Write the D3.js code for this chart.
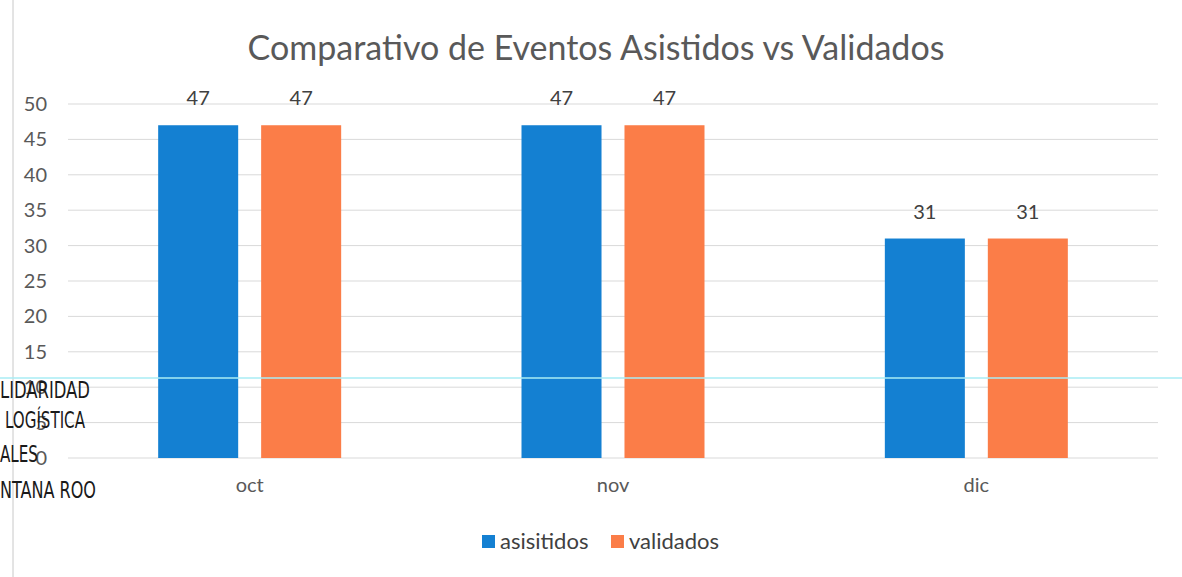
<!DOCTYPE html>
<html>
<head>
<meta charset="utf-8">
<script src="https://cdn.jsdelivr.net/npm/d3@7"></script>
<style>
  body { margin: 0; background: #fff; }
  svg text { font-family: Lato, "Open Sans", sans-serif; }
</style>
</head>
<body>
<div class="chart"></div>
<script>
// data
var months = ["oct", "nov", "dic"];
var seriesNames = ["asisitidos", "validados"];
var asistidos = [47, 47, 31];
var validados = [47, 47, 31];
var yTicks = [0, 5, 10, 15, 20, 25, 30, 35, 40, 45, 50];
var stampLines = ["LIDARIDAD", "LOGÍSTICA", "ALES", "NTANA ROO"];

var colors = ["#1480d2", "#fb7d48"];

var width = 1182, height = 577;
var margin = { top: 104, bottom: 119, left: 68, right: 24 };

var svg = d3.select(".chart").append("svg")
    .attr("width", width)
    .attr("height", height);

var x = d3.scaleBand()
    .domain(months)
    .range([margin.left, width - margin.right]);

var x1 = d3.scaleBand()
    .domain(seriesNames)
    .range([0, 183])
    .paddingInner(0.223);

var y = d3.scaleLinear()
    .domain([0, 50])
    .range([height - margin.bottom, margin.top]);

// title
svg.append("text")
    .attr("x", 596)
    .attr("y", 60)
    .attr("text-anchor", "middle")
    .attr("font-size", 34)
    .attr("fill", "#595959")
    .text("Comparativo de Eventos Asistidos vs Validados");

// grid
svg.append("g")
    .selectAll("line")
    .data(yTicks)
    .enter().append("line")
    .attr("x1", margin.left)
    .attr("x2", width - margin.right)
    .attr("y1", d => y(d))
    .attr("y2", d => y(d))
    .attr("stroke", "#d9d9d9")
    .attr("stroke-width", 1);

// y axis labels
var yAxis = d3.axisLeft(y).tickValues(yTicks).tickSize(0).tickPadding(0);
svg.append("g")
    .attr("transform", "translate(" + (margin.left - 21) + ",0)")
    .call(yAxis)
    .call(g => g.select(".domain").remove())
    .selectAll("text")
    .attr("font-size", 20)
    .attr("fill", "#595959")
    .style("font-family", "Lato, 'Open Sans', sans-serif");

// x axis labels
var xAxis = d3.axisBottom(x).tickSize(0).tickPadding(0);
svg.append("g")
    .attr("transform", "translate(0," + (y(0) + 20) + ")")
    .call(xAxis)
    .call(g => g.select(".domain").remove())
    .selectAll("text")
    .attr("font-size", 20)
    .attr("fill", "#595959")
    .style("font-family", "Lato, 'Open Sans', sans-serif");

// bars
var rows = months.map((m, i) => ({ month: m, values: [asistidos[i], validados[i]] }));

var groups = svg.append("g")
    .selectAll("g")
    .data(rows)
    .enter().append("g")
    .attr("transform", d => "translate(" + (x(d.month) + (x.bandwidth() - x1.range()[1]) / 2) + ",0)");

groups.selectAll("rect")
    .data(d => d.values.map((v, j) => ({ name: seriesNames[j], value: v, j: j })))
    .enter().append("rect")
    .attr("x", d => x1(d.name))
    .attr("width", x1.bandwidth())
    .attr("y", d => y(d.value))
    .attr("height", d => y(0) - y(d.value))
    .attr("fill", d => colors[d.j]);

groups.selectAll("text.val")
    .data(d => d.values.map((v, j) => ({ name: seriesNames[j], value: v })))
    .enter().append("text")
    .attr("class", "val")
    .attr("x", d => x1(d.name) + x1.bandwidth() / 2)
    .attr("y", d => y(d.value) - 20)
    .attr("text-anchor", "middle")
    .attr("font-size", 20)
    .attr("fill", "#404040")
    .text(d => d.value);

// legend
var legend = svg.append("g").attr("transform", "translate(482,541)");
var legendX = [0, 129];
seriesNames.forEach(function (name, i) {
    legend.append("rect")
        .attr("x", legendX[i])
        .attr("y", -6)
        .attr("width", 13)
        .attr("height", 13)
        .attr("fill", colors[i]);
    legend.append("text")
        .attr("x", legendX[i] + 18)
        .attr("y", 8)
        .attr("font-size", 22)
        .attr("fill", "#404040")
        .text(name);
});

// scan leftovers: margin line, stamp text, cyan streak
svg.append("line")
    .attr("x1", 13).attr("x2", 13)
    .attr("y1", 0).attr("y2", height)
    .attr("stroke", "#c8c8c8");

svg.append("line")
    .attr("x1", 0).attr("x2", width)
    .attr("y1", 378).attr("y2", 378)
    .attr("stroke", "#a8ecf5")
    .attr("stroke-width", 1.5);

svg.append("g")
    .selectAll("text")
    .data(stampLines)
    .enter().append("text")
    .attr("x", (d, i) => [0, 5, 0, 0][i])
    .attr("y", (d, i) => [398, 428, 462, 498][i])
    .attr("font-size", 23)
    .attr("fill", "#1a1a1a")
    .style("font-family", "'DejaVu Sans Condensed', sans-serif")
    .attr("textLength", (d, i) => [90, 80, 38, 96][i])
    .attr("lengthAdjust", "spacingAndGlyphs")
    .text(d => d);
</script>
</body>
</html>
